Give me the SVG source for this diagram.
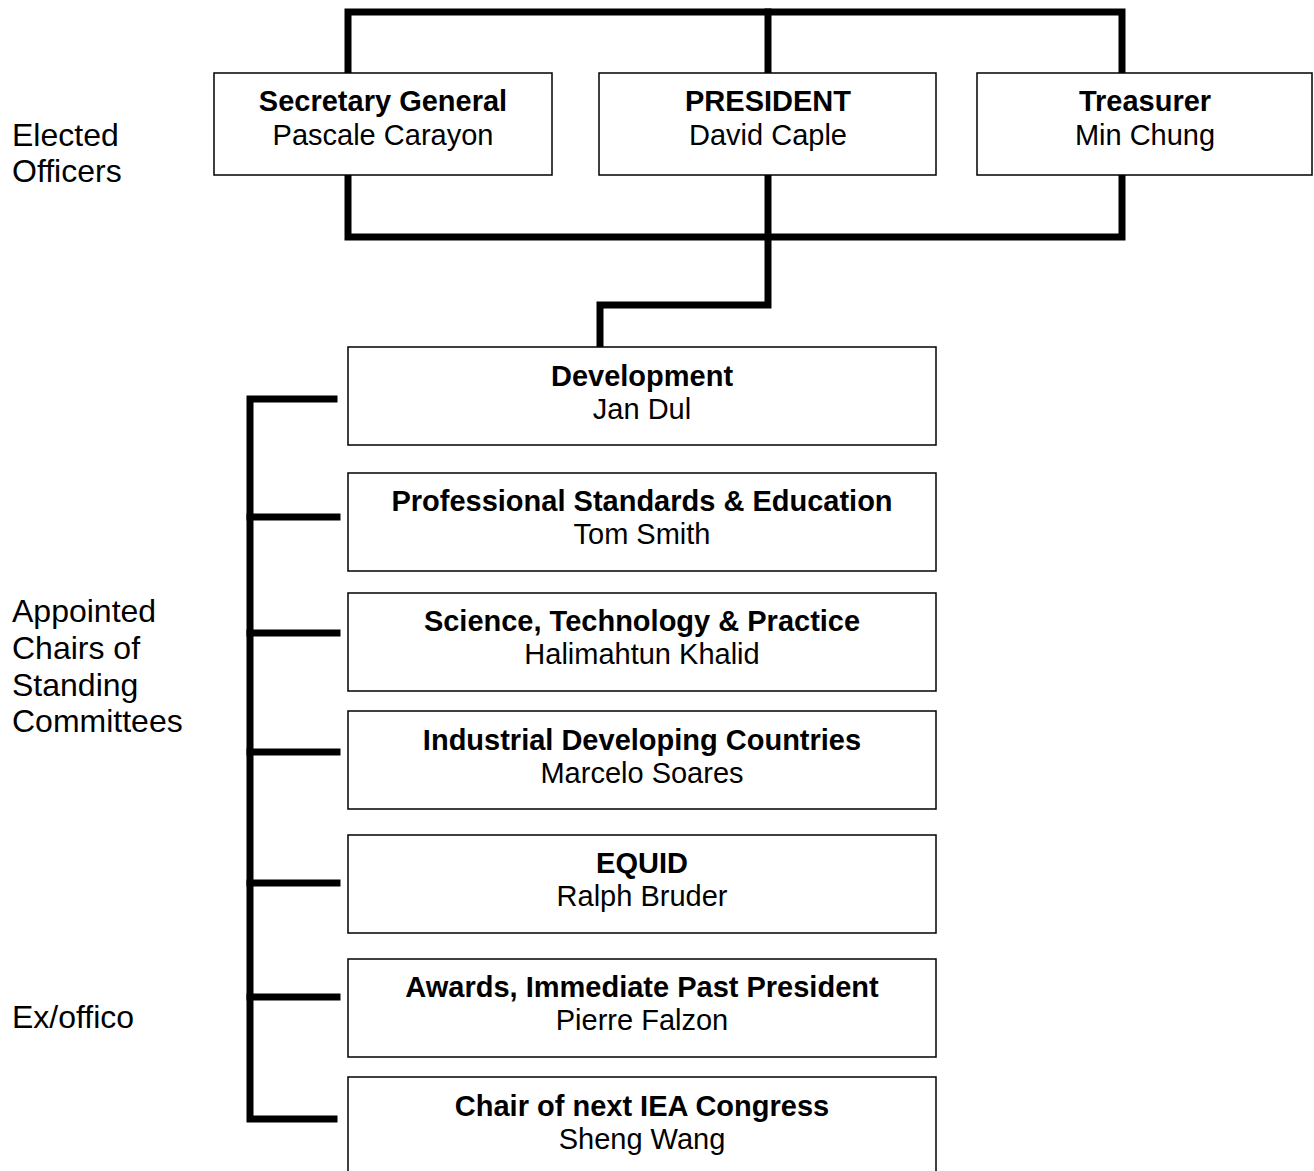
<svg xmlns="http://www.w3.org/2000/svg" width="1314" height="1171" viewBox="0 0 1314 1171">
<style>
  .box { fill: #fff; stroke: #000; stroke-width: 1.5; }
  .t { font-family: "Liberation Sans", Arial, sans-serif; font-size: 29px; fill: #000; text-anchor: middle; }
  .b { font-weight: bold; }
  .lab { font-family: "Liberation Sans", Arial, sans-serif; font-size: 32px; fill: #000; }
  .con { fill: none; stroke: #000; stroke-width: 7; stroke-linejoin: miter; stroke-linecap: square; }
</style>
<rect width="1314" height="1171" fill="#fff"/>
<g id="connectors">
  <path class="con" d="M348,73 V12 H1122 V73"/>
  <path class="con" d="M768,12 V73"/>
  <path class="con" d="M348,175 V237 H1122 V175"/>
  <path class="con" d="M768,175 V305 H600 V346"/>
  <path class="con" d="M334,399 H250 V1119 H334"/>
  <path class="con" d="M250,517 H337 M250,633 H337 M250,752 H337 M250,883 H337 M250,997 H337" stroke-linecap="butt"/>
</g>
<g id="labels">
  <text class="lab" x="12" y="146">Elected</text>
  <text class="lab" x="12" y="182">Officers</text>
  <text class="lab" x="12" y="622">Appointed</text>
  <text class="lab" x="12" y="659">Chairs of</text>
  <text class="lab" x="12" y="696">Standing</text>
  <text class="lab" x="12" y="732">Committees</text>
  <text class="lab" x="12" y="1028">Ex/offico</text>
</g>
<g id="secretary">
  <rect class="box" x="214" y="73" width="338" height="102"/>
  <text class="t b" x="383" y="111">Secretary General</text>
  <text class="t" x="383" y="145">Pascale Carayon</text>
</g>
<g id="president">
  <rect class="box" x="599" y="73" width="337" height="102"/>
  <text class="t b" x="768" y="111">PRESIDENT</text>
  <text class="t" x="768" y="145">David Caple</text>
</g>
<g id="treasurer">
  <rect class="box" x="977" y="73" width="335" height="102"/>
  <text class="t b" x="1145" y="111">Treasurer</text>
  <text class="t" x="1145" y="145">Min Chung</text>
</g>
<g id="development">
  <rect class="box" x="348" y="347" width="588" height="98"/>
  <text class="t b" x="642" y="386">Development</text>
  <text class="t" x="642" y="419">Jan Dul</text>
</g>
<g id="professional">
  <rect class="box" x="348" y="473" width="588" height="98"/>
  <text class="t b" x="642" y="511">Professional Standards &amp; Education</text>
  <text class="t" x="642" y="544">Tom Smith</text>
</g>
<g id="science">
  <rect class="box" x="348" y="593" width="588" height="98"/>
  <text class="t b" x="642" y="631">Science, Technology &amp; Practice</text>
  <text class="t" x="642" y="664">Halimahtun Khalid</text>
</g>
<g id="industrial">
  <rect class="box" x="348" y="711" width="588" height="98"/>
  <text class="t b" x="642" y="750">Industrial Developing Countries</text>
  <text class="t" x="642" y="783">Marcelo Soares</text>
</g>
<g id="equid">
  <rect class="box" x="348" y="835" width="588" height="98"/>
  <text class="t b" x="642" y="873">EQUID</text>
  <text class="t" x="642" y="906">Ralph Bruder</text>
</g>
<g id="awards">
  <rect class="box" x="348" y="959" width="588" height="98"/>
  <text class="t b" x="642" y="997">Awards, Immediate Past President</text>
  <text class="t" x="642" y="1030">Pierre Falzon</text>
</g>
<g id="congress">
  <rect class="box" x="348" y="1077" width="588" height="110"/>
  <text class="t b" x="642" y="1116">Chair of next IEA Congress</text>
  <text class="t" x="642" y="1149">Sheng Wang</text>
</g>
</svg>
